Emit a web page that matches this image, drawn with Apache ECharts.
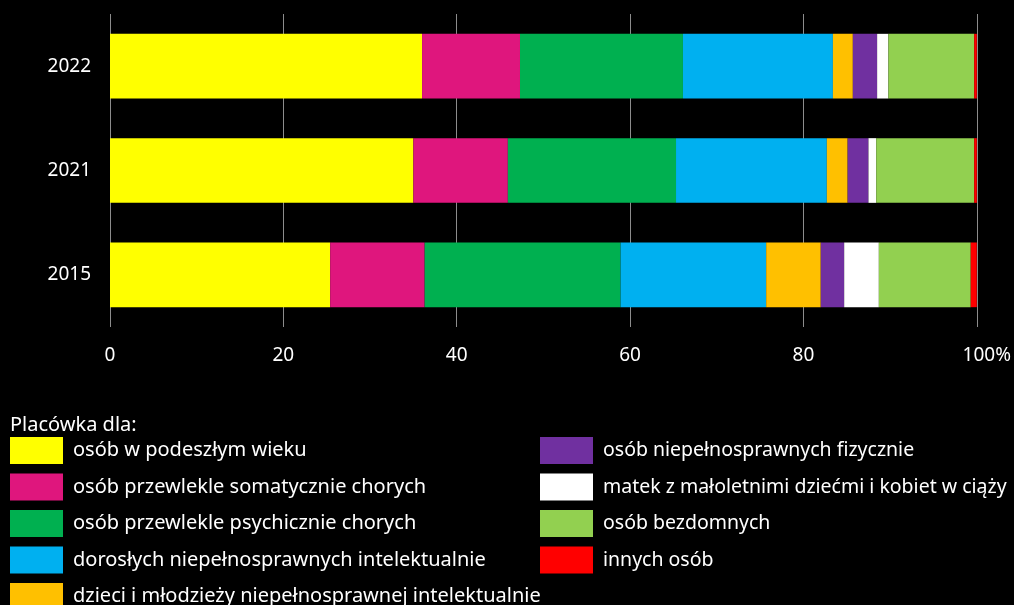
<!DOCTYPE html>
<html>
<head>
<meta charset="utf-8">
<script src="https://cdn.jsdelivr.net/npm/echarts@6/dist/echarts.min.js"></script>
<style>
  html, body { margin: 0; padding: 0; background: #000; }
  #chart { width: 1014px; height: 605px; }
</style>
</head>
<body>
<div id="chart"></div>
<script>
var years = ['2015', '2021', '2022'];
var seriesNames = [
  'osób w podeszłym wieku',
  'osób przewlekle somatycznie chorych',
  'osób przewlekle psychicznie chorych',
  'dorosłych niepełnosprawnych intelektualnie',
  'dzieci i młodzieży niepełnosprawnej intelektualnie',
  'osób niepełnosprawnych fizycznie',
  'matek z małoletnimi dziećmi i kobiet w ciąży',
  'osób bezdomnych',
  'innych osób'
];
var colors = ['#ffff00', '#df167d', '#00b050', '#00b0f0', '#ffc000', '#7030a0', '#ffffff', '#92d050', '#ff0000'];

// share in % for 2015, 2021, 2022
var elderly      = [25.4, 35.0, 36.0];
var somatic      = [10.9, 10.9, 11.3];
var psychic      = [22.6, 19.4, 18.8];
var adultsIntel  = [16.8, 17.4, 17.3];
var youthIntel   = [6.3, 2.4, 2.3];
var physical     = [2.7, 2.4, 2.8];
var mothers      = [4.0, 0.9, 1.3];
var homeless     = [10.6, 11.3, 9.9];
var others       = [0.7, 0.3, 0.3];
var values = [elderly, somatic, psychic, adultsIntel, youthIntel, physical, mothers, homeless, others];

var xTicks = [0, 20, 40, 60, 80, 100];

var font = 'Noto Sans';
var chart = echarts.init(document.getElementById('chart'));

var series = seriesNames.map(function (name, i) {
  return {
    name: name,
    type: 'bar',
    stack: 'all',
    barWidth: '62%',
    data: values[i],
    itemStyle: { color: colors[i] },
    emphasis: { disabled: true }
  };
});

function makeLegend(names, left, size) {
  return {
    data: names,
    orient: 'vertical',
    left: left,
    top: 437,
    height: 300,
    icon: 'rect',
    itemWidth: 53,
    itemHeight: 27,
    itemGap: 9.5,
    padding: 0,
    selectedMode: false,
    itemStyle: { borderWidth: 0 },
    textStyle: { color: '#ffffff', fontFamily: font, fontSize: size, lineHeight: 24, padding: [0, 0, 0, 5] }
  };
}

chart.setOption({
  backgroundColor: '#000000',
  animation: false,
  title: {
    text: 'Placówka dla:',
    left: 5,
    top: 410,
    textStyle: { color: '#ffffff', fontFamily: font, fontSize: 20, fontWeight: 'normal' }
  },
  legend: [
    makeLegend(seriesNames.slice(0, 5), 10, 20),
    makeLegend(seriesNames.slice(5), 540, 19.5)
  ],
  grid: { left: 110, right: 35, top: 14, bottom: 278 },
  xAxis: {
    type: 'value',
    min: xTicks[0],
    max: xTicks[xTicks.length - 1],
    interval: 20,
    axisLine: { show: false },
    axisTick: { show: false },
    splitLine: { lineStyle: { color: '#8c8c8c', width: 1 } },
    axisLabel: {
      color: '#ffffff',
      fontFamily: font,
      fontSize: 19,
      margin: 19,
      formatter: function (v) { return v === 100 ? '{p|100%}' : String(v); },
      rich: { p: { color: '#ffffff', fontFamily: font, fontSize: 19, padding: [0, 0, 0, 20] } }
    }
  },
  yAxis: {
    type: 'category',
    data: years,
    axisLine: { show: false },
    axisTick: { show: false },
    axisLabel: { color: '#ffffff', fontFamily: font, fontSize: 19, margin: 19, padding: [3, 0, 0, 0] }
  },
  series: series
});
</script>
</body>
</html>
